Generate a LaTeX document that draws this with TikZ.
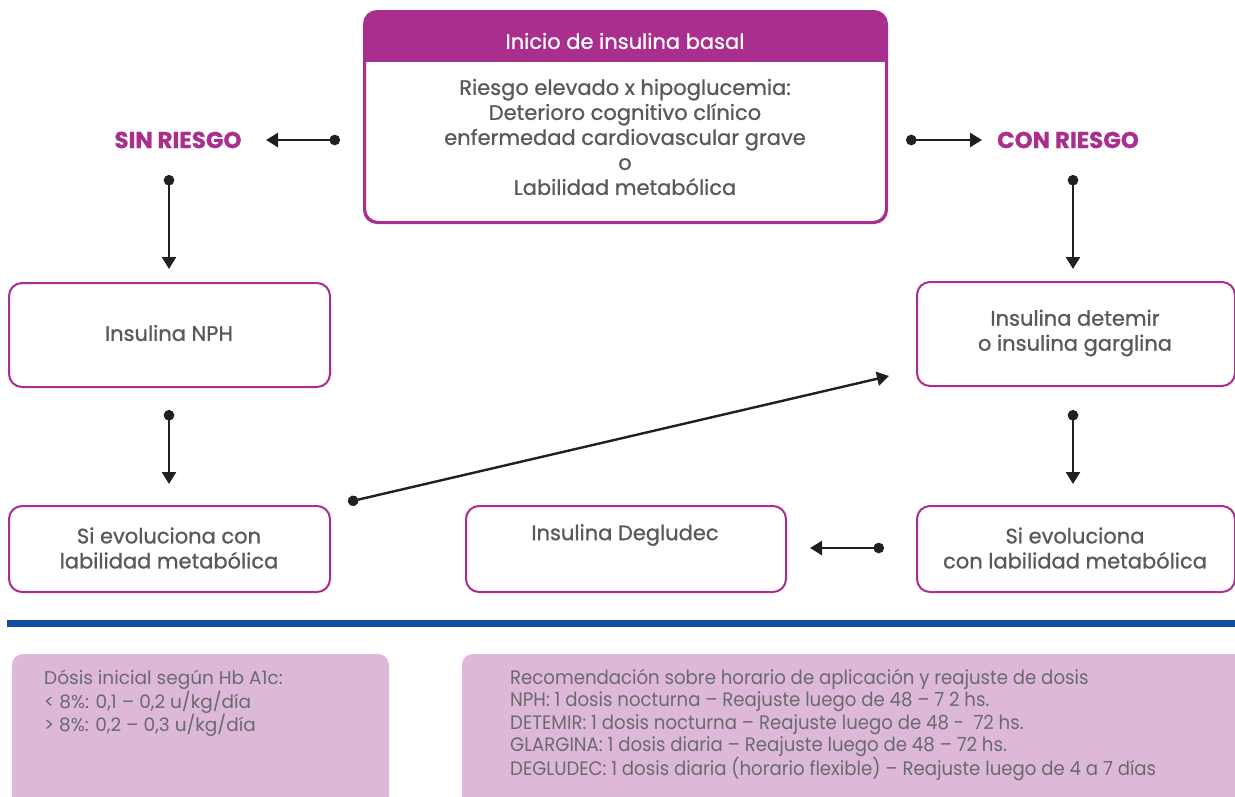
\documentclass[tikz,border=0pt]{standalone}
\usepackage{fontspec}
\setmainfont{Poppins}[FakeBold=0.9]
\newfontfamily\boldfont{Poppins}[FakeBold=0.6]
\newfontfamily\notefont{Poppins}
\newfontfamily\narrowfont{Poppins}[FakeStretch=0.93]
\usetikzlibrary{arrows.meta}
\definecolor{mag}{HTML}{A92E8E}
\definecolor{txt}{HTML}{58595B}
\definecolor{ntxt}{HTML}{6A6A6D}
\definecolor{lila}{HTML}{DDB8D8}
\definecolor{bluebar}{HTML}{0F4FA3}
\definecolor{ink}{HTML}{231F20}
\begin{document}
\begin{tikzpicture}[x=1pt,y=-1pt,
  box/.style={draw=mag, line width=2pt, rounded corners=13pt, fill=white, anchor=north west, inner sep=0pt},
  lbl/.style={text=txt, font=\fontsize{21}{25}\selectfont, align=center, inner sep=0pt},
  riskl/.style={text=mag, font=\boldfont\fontsize{23}{24}\selectfont\bfseries, inner sep=0pt},
  conn/.style={draw=ink, line width=2.4pt, {Circle[length=10.5pt]}-{Triangle[length=12pt,width=14pt]}},
  note/.style={fill=lila, rounded corners=11pt},
  notetext/.style={text=ntxt, align=left, anchor=north west, inner sep=0pt}]
\useasboundingbox (0,0) rectangle (1235,796);
\fill[white] (0,0) rectangle (1235,796);

% top box
\node[box, minimum width=521pt, minimum height=210pt] (top) at (364,11) {};
\begin{scope}
  \clip[rounded corners=13pt] (364,11) rectangle (885,221);
  \fill[mag] (364,11) rectangle (885,62);
\end{scope}
\draw[mag, line width=2pt, rounded corners=13pt] (top.north west) rectangle (top.south east);
\node[lbl, text=white] (hdr) at (625,41) {Inicio de insulina basal};
\node[lbl] (riesgo) at (625,137) {Riesgo elevado x hipoglucemia:\\Deterioro cognitivo clínico\\enfermedad cardiovascular grave\\o\\Labilidad metabólica};

% risk labels
\node[riskl] (sin) at (178,140) {SIN RIESGO};
\node[riskl] (con) at (1068,140) {CON RIESGO};

% boxes
\node[box, minimum width=321pt, minimum height=104pt] (nph) at (8,282) {};
\node[lbl] (nphT) at (169,333) {Insulina NPH};
\node[box, minimum width=318pt, minimum height=104pt] (det) at (916,281) {};
\node[lbl] (detT) at (1075,333) {Insulina detemir\\o insulina garglina};
\node[box, minimum width=321pt, minimum height=86pt] (evl) at (8,505) {};
\node[lbl] (evlT) at (169,548) {Si evoluciona con\\labilidad metabólica};
\node[box, minimum width=320pt, minimum height=86pt] (deg) at (465,505) {};
\node[lbl] (degT) at (625,535) {Insulina Degludec};
\node[box, minimum width=318pt, minimum height=86pt] (evr) at (916,505) {};
\node[lbl] (evrT) at (1075,548) {Si evoluciona\\ con labilidad metabólica};

% connector end points
\coordinate (a1s) at (340,140); \coordinate (a1e) at (266,140);
\coordinate (a2s) at (906,140); \coordinate (a2e) at (982,140);
\coordinate (a3s) at (169,175); \coordinate (a3e) at (169,269);
\coordinate (a4s) at (1073,175); \coordinate (a4e) at (1073,269);
\coordinate (a5s) at (169,410); \coordinate (a5e) at (169,484);
\coordinate (a6s) at (1073,410); \coordinate (a6e) at (1073,484);
\coordinate (a7s) at (884,548); \coordinate (a7e) at (810,548);
\coordinate (a8s) at (348,502); \coordinate (a8e) at (889,376);
\foreach \i in {1,...,8} {\draw[conn] (a\i s) -- (a\i e);}

% separator
\fill[bluebar] (7,620) rectangle (1235,627);

% notes
\fill[note] (12,654) rectangle (389,820);
\node[notetext, font=\notefont\fontsize{18.5}{21.5}\selectfont] (dosis) at (44,670) {Dósis inicial según Hb A1c:\\< 8\%: 0,1 – 0,2 u/kg/día\\> 8\%: 0,2 – 0,3 u/kg/día};
\fill[note] (462,654) rectangle (1250,820);
\node[notetext, font=\narrowfont\fontsize{19.5}{22.3}\selectfont] (reco) at (510,669) {Recomendación sobre horario de aplicación y reajuste de dosis\\NPH: 1 dosis nocturna – Reajuste luego de 48 – 7 2 hs.\\DETEMIR: 1 dosis nocturna – Reajuste luego de 48 -~~72 hs.\\GLARGINA: 1 dosis diaria – Reajuste luego de 48 – 72 hs.\\DEGLUDEC: 1 dosis diaria (horario flexible) – Reajuste luego de 4 a 7 días};
\end{tikzpicture}
\end{document}
